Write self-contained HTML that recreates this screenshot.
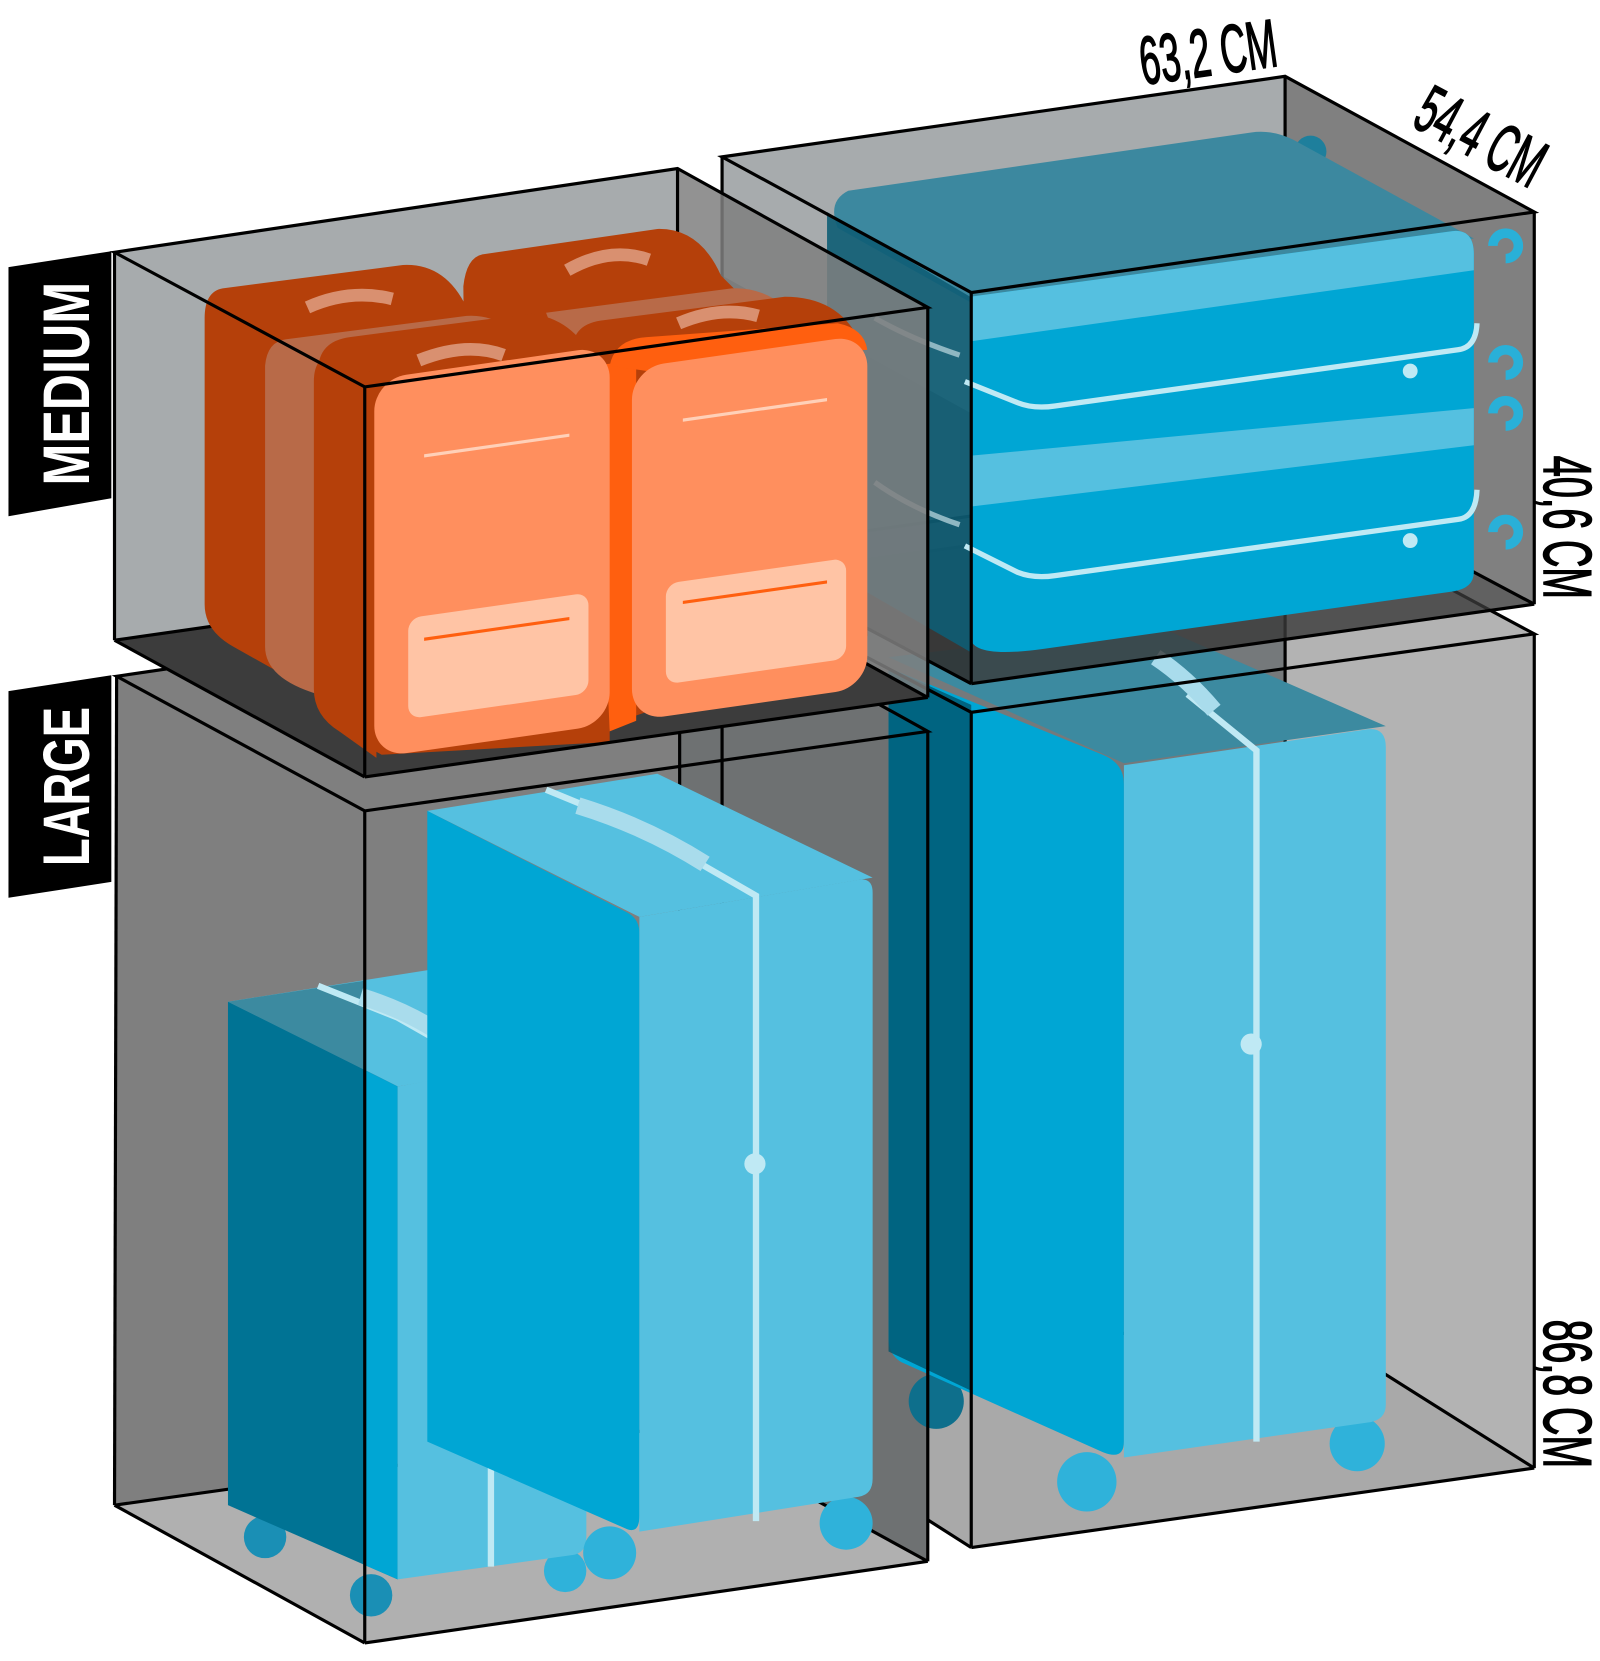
<!DOCTYPE html>
<html><head><meta charset="utf-8"><style>html,body{margin:0;padding:0;background:#fff}svg{display:block}</style></head>
<body>
<svg width="1600" height="1661" viewBox="0 0 1509 1567" preserveAspectRatio="none" xmlns="http://www.w3.org/2000/svg" font-family="Liberation Sans, sans-serif">
<rect width="1509" height="1567" fill="#fff"/>

<!-- LARGE RIGHT BOX back -->
<polygon points="681,548 1212,472 1212,1237 681,1310" fill="#75797b"/>
<polygon points="1212,472 1447,598 1447,1385 1212,1237" fill="#b3b3b3"/>
<polygon points="681,1310 1212,1237 1447,1385 916,1460" fill="#a9a9a9"/>
<g stroke="#000" stroke-width="3" fill="none">
<line x1="1212" y1="472" x2="1212" y2="1237"/><line x1="1212" y1="1237" x2="1447" y2="1385"/><line x1="681" y1="1310" x2="1212" y2="1237"/>
<line x1="681" y1="1310" x2="916" y2="1460"/>
</g>
<!-- LARGE LEFT BOX back -->
<polygon points="110,638 641,560 641,1345 108,1420" fill="#7f7f7f"/>
<polygon points="641,560 875,690 875,1473 641,1345" fill="#6e7172"/>
<polygon points="108,1420 641,1345 875,1473 344,1550" fill="#b0b0b0"/>
<g stroke="#000" stroke-width="3" fill="none">
<line x1="641" y1="560" x2="641" y2="1345"/><line x1="641" y1="1345" x2="875" y2="1473"/><line x1="108" y1="1420" x2="641" y2="1345"/>
<line x1="681" y1="548" x2="681" y2="1310"/>
</g>

<!-- Right big suitcase -->
<circle cx="883" cy="1322" r="26" fill="#0e6f8c"/>
<circle cx="1025" cy="1398" r="28" fill="#2fb2da"/><circle cx="1280" cy="1362" r="26" fill="#2fb2da"/>
<polygon points="838,620 1090,590 1307,685 1060,720" fill="#3c8aa0"/>
<path d="M838,630 L1040,712 Q1060,720 1060,740 L1060,1360 Q1060,1378 1040,1370 L850,1285 Q838,1278 838,1262 Z" fill="#00a6d4"/>
<polygon points="838,630 916,665 916,1312 838,1275" fill="#00546c" opacity="0.8"/>
<path d="M1060,722 L1290,688 Q1307,686 1307,705 L1307,1325 Q1307,1340 1290,1342 L1060,1375 Z" fill="#55c0e0"/>
<path d="M1120,655 L1185,708 L1185,1360" stroke="#bfe9f4" stroke-width="6" fill="none"/>
<path d="M1090,620 Q1120,640 1145,670" stroke="#a9dcec" stroke-width="16" fill="none"/>
<circle cx="1180" cy="985" r="10" fill="#bfe9f4"/>

<!-- Left small suitcase -->
<circle cx="250" cy="1450" r="20" fill="#1a8fb5"/><circle cx="350" cy="1505" r="20" fill="#1a8fb5"/><circle cx="533" cy="1482" r="20" fill="#2fb2da"/>
<polygon points="215,945 405,915 553,995 375,1025" fill="#55c0e0"/>
<polygon points="215,945 345,925 345,1010" fill="#3c8aa0"/>
<polygon points="215,945 375,1025 375,1490 215,1420" fill="#007394"/>
<polygon points="345,1010 375,1025 375,1490 345,1477" fill="#00a6d4"/>
<path d="M375,1025 L540,995 Q553,993 553,1008 L553,1450 Q553,1465 540,1467 L375,1490 Z" fill="#55c0e0"/>
<path d="M300,930 L375,960 L463,1010 L463,1478" stroke="#bfe9f4" stroke-width="6" fill="none"/>
<path d="M340,940 Q390,955 430,985" stroke="#a9dcec" stroke-width="16" fill="none"/>
<circle cx="462" cy="1208" r="9" fill="#bfe9f4"/>

<!-- Middle tall suitcase -->
<circle cx="575" cy="1465" r="25" fill="#2fb2da"/><circle cx="798" cy="1437" r="25" fill="#2fb2da"/>
<polygon points="403,765 620,730 823,828 603,865" fill="#55c0e0"/>
<path d="M403,765 L590,860 Q603,866 603,880 L603,1430 Q603,1448 590,1442 L403,1360 Z" fill="#00a6d4"/>
<path d="M603,865 L810,830 Q823,828 823,842 L823,1395 Q823,1410 810,1412 L603,1445 Z" fill="#55c0e0"/>
<path d="M515,745 L600,780 L713,845 L713,1435" stroke="#bfe9f4" stroke-width="6" fill="none"/>
<path d="M545,760 Q610,780 665,815" stroke="#a9dcec" stroke-width="16" fill="none"/>
<circle cx="712" cy="1098" r="10" fill="#bfe9f4"/>

<!-- large boxes front edges -->
<g fill="none" stroke="#000" stroke-width="3">
<polygon points="110,638 641,560 875,690 344,765"/>
<line x1="110" y1="638" x2="108" y2="1420"/><line x1="108" y1="1420" x2="344" y2="1550"/>
<line x1="344" y1="765" x2="344" y2="1550"/><line x1="875" y1="690" x2="875" y2="1473"/><line x1="344" y1="1550" x2="875" y2="1473"/>
<polygon points="681,548 1212,472 1447,598 916,672"/>
<line x1="916" y1="672" x2="916" y2="1460"/><line x1="1447" y1="598" x2="1447" y2="1385"/>
<line x1="916" y1="1460" x2="1447" y2="1385"/>
</g>

<!-- MEDIUM RIGHT BOX back -->
<polygon points="681,148 1212,72 1212,445 681,520" fill="#a7abad"/>
<polygon points="1212,72 1447,200 1447,570 1212,445" fill="#808080"/>
<polygon points="681,520 1212,445 1447,570 916,645" fill="#3a3a3a" opacity="0.8"/>
<polygon points="681,260 916,390 916,645 681,520" fill="rgba(40,40,40,0.45)"/>
<g stroke="#000" stroke-width="3" fill="none">
<line x1="1212" y1="72" x2="1212" y2="445"/><line x1="681" y1="520" x2="1212" y2="445"/><line x1="1212" y1="445" x2="1447" y2="570"/>
</g>
<!-- hooks -->
<g fill="none" stroke="#29b0d8" stroke-width="9">
<path d="M1408,232 a12,12 0 1 1 12,12"/><path d="M1408,342 a12,12 0 1 1 12,12"/>
<path d="M1408,390 a12,12 0 1 1 12,12"/><path d="M1408,502 a12,12 0 1 1 12,12"/>
</g>
<circle cx="1236" cy="143" r="15" fill="#1e7f9c"/>
<!-- flat suitcases -->
<path d="M800,180 L1180,125 Q1200,122 1220,132 L1390,225 L915,285 L790,215 Q780,190 800,180Z" fill="#3c889f"/>
<path d="M780,200 L915,280 L915,615 L820,560 Q780,540 780,510Z" fill="#0e5d74" opacity="0.9"/>
<path d="M915,280 L1370,218 Q1390,216 1390,240 L1390,540 Q1390,555 1370,558 L985,612 Q915,622 915,600Z" fill="#00a6d4"/>
<path d="M915,280 L1370,218 Q1390,216 1390,240 L1390,255 L915,322Z" fill="#55c0e0"/>
<path d="M915,430 L1390,385 L1390,420 L915,478Z" fill="#55c0e0"/>
<g fill="none" stroke="#bfe9f4" stroke-width="5">
<path d="M910,360 L960,380 Q975,386 995,383 L1375,330 Q1392,328 1393,305"/>
<path d="M910,515 L960,540 Q975,546 995,543 L1375,490 Q1392,488 1393,462"/>
<path d="M825,300 Q860,320 905,335" stroke="#8fb7c2"/><path d="M825,455 Q860,480 905,495" stroke="#8fb7c2"/>
</g>
<circle cx="1330" cy="350" r="7" fill="#bfe9f4"/><circle cx="1330" cy="510" r="7" fill="#bfe9f4"/>
<g fill="none" stroke="#000" stroke-width="3">
<polygon points="681,148 1212,72 1447,200 916,276"/>
<line x1="681" y1="148" x2="681" y2="520"/><line x1="916" y1="276" x2="916" y2="645"/><line x1="1447" y1="200" x2="1447" y2="570"/>
<line x1="916" y1="645" x2="1447" y2="570"/><line x1="681" y1="520" x2="916" y2="645"/>
</g>

<!-- MEDIUM LEFT BOX back -->
<polygon points="108,238 639,159 639,528 108,604" fill="#a7abad"/>
<polygon points="639,159 875,290 875,658 639,528" fill="#7f7f7f" opacity="0.85"/>
<polygon points="108,604 639,528 875,658 344,733" fill="#3c3c3c"/>
<g stroke="#000" stroke-width="3" fill="none">
<line x1="639" y1="159" x2="639" y2="528"/><line x1="108" y1="604" x2="639" y2="528"/><line x1="639" y1="528" x2="875" y2="658"/>
</g>

<!-- back backpacks -->
<path d="M210,272 L380,250 Q420,248 440,290 L480,300 L480,620 L300,655 L220,610 Q193,595 193,570 L193,300 Q193,275 210,272Z" fill="#b5400a"/>
<path d="M455,240 L620,216 Q660,215 680,260 L700,280 L700,580 L520,610 L440,560 L437,270 Q440,243 455,240Z" fill="#b5400a"/>
<path d="M270,320 L440,298 Q470,296 490,320 L500,620 L300,655 Q250,640 250,610 L250,345 Q252,322 270,320Z" fill="#b86a48"/>
<path d="M515,295 L690,272 Q730,270 760,310 L760,330 L540,360 Z" fill="#b86a48"/>
<path d="M300,600 L300,350 Q300,322 330,318 L500,296 Q540,300 560,340 L575,360 L575,700 L360,712 Q300,680 300,650Z" fill="#b5400a"/>
<path d="M540,330 Q540,305 570,302 L740,280 Q790,280 810,320 L818,600 L600,675 L560,650Z" fill="#b5400a"/>
<path d="M290,290 Q330,272 370,282" stroke="#d99070" stroke-width="12" fill="none"/>
<path d="M535,255 Q575,232 612,245" stroke="#d99070" stroke-width="12" fill="none"/>
<path d="M395,340 Q440,322 475,335" stroke="#d99070" stroke-width="12" fill="none"/>
<path d="M640,305 Q680,288 715,298" stroke="#d99070" stroke-width="12" fill="none"/>
<!-- front backpacks sides -->
<path d="M296,360 Q296,330 325,335 L355,355 L355,715 L320,690 Q296,675 296,650Z" fill="#b5400a"/>
<path d="M560,345 L600,340 L600,680 L575,690Z" fill="#ff5f0f"/>
<path d="M575,345 Q580,320 610,318 L790,305 Q815,310 818,330 L610,350Z" fill="#ff5f0f"/>
<!-- front faces -->
<g transform="skewY(-8.1)">
<rect x="353" y="408" width="222" height="357" rx="30" fill="#ff8f5e"/>
<rect x="596" y="432" width="222" height="333" rx="30" fill="#ff8f5e"/>
<rect x="385" y="638" width="170" height="95" rx="12" fill="#ffc4a5"/>
<rect x="628" y="640" width="170" height="95" rx="12" fill="#ffc4a5"/>
<line x1="400" y1="487" x2="537" y2="487" stroke="#ffd0b8" stroke-width="3"/>
<line x1="644" y1="488" x2="780" y2="488" stroke="#ffd0b8" stroke-width="3"/>
<line x1="400" y1="660" x2="537" y2="660" stroke="#ff5f0f" stroke-width="3"/>
<line x1="644" y1="660" x2="780" y2="660" stroke="#ff5f0f" stroke-width="3"/>
</g>

<g fill="none" stroke="#000" stroke-width="3">
<polygon points="108,238 639,159 875,290 344,365"/>
<line x1="108" y1="238" x2="108" y2="604"/><line x1="108" y1="604" x2="344" y2="733"/>
<line x1="344" y1="365" x2="344" y2="733"/><line x1="875" y1="290" x2="875" y2="658"/><line x1="344" y1="733" x2="875" y2="658"/>
</g>

<!-- labels -->
<polygon points="8,252 105,237 105,470 8,487" fill="#000"/>
<text transform="translate(84,362) rotate(-90)" text-anchor="middle" font-size="62" font-weight="bold" fill="#fff" textLength="192" lengthAdjust="spacingAndGlyphs">MEDIUM</text>
<polygon points="8,652 105,637 105,832 8,847" fill="#000"/>
<text transform="translate(84,742) rotate(-90)" text-anchor="middle" font-size="62" font-weight="bold" fill="#fff" textLength="150" lengthAdjust="spacingAndGlyphs">LARGE</text>

<g font-size="64" fill="#000" stroke="#000" stroke-width="1.5">
<text transform="translate(1078,80) rotate(-8)" textLength="130" lengthAdjust="spacingAndGlyphs">63,2 CM</text>
<text transform="translate(1330,118) rotate(28)" textLength="128" lengthAdjust="spacingAndGlyphs">54,4 CM</text>
<text transform="translate(1456,430) rotate(90)" textLength="135" lengthAdjust="spacingAndGlyphs">40,6 CM</text>
<text transform="translate(1456,1245) rotate(90)" textLength="140" lengthAdjust="spacingAndGlyphs">86,8 CM</text>
</g>
</svg>
</body></html>
